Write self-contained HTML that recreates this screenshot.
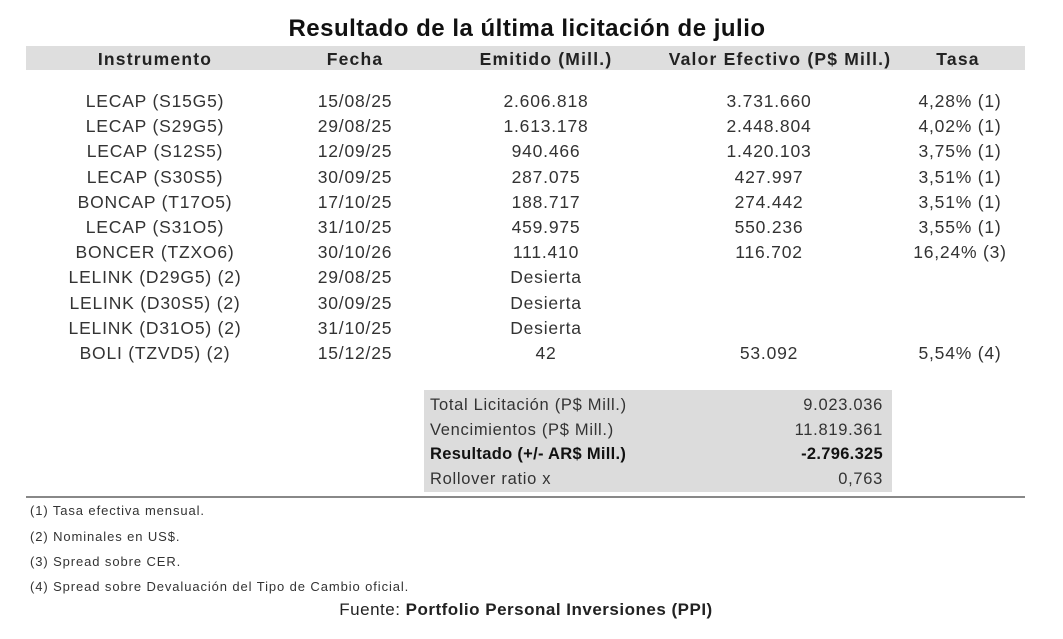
<!DOCTYPE html>
<html><head><meta charset="utf-8"><style>
body{margin:0;width:1063px;height:639px;background:#fff;font-family:"Liberation Sans",sans-serif;color:#333;position:relative;overflow:hidden}
.a{position:absolute;white-space:nowrap}
.c{transform:translateX(-50%)}
.r{transform:translateX(-100%)}
.row{font-size:17.5px;line-height:20px;letter-spacing:0.8px}
.h{font-weight:bold;font-size:17.5px;color:#222;letter-spacing:1.2px}
.s{font-size:16.5px;line-height:18px;letter-spacing:0.7px}
.f{font-size:13px;color:#333;letter-spacing:0.9px}
</style></head><body>
<div class="a c" style="left:527px;top:15px;font-size:24px;font-weight:bold;color:#111;letter-spacing:0.5px">Resultado de la última licitación de julio</div>
<div class="a" style="left:26px;top:46px;width:999px;height:24px;background:#dedede"></div>
<div class="a c h" style="left:155px;top:49px">Instrumento</div>
<div class="a c h" style="left:355px;top:49px">Fecha</div>
<div class="a c h" style="left:546px;top:49px">Emitido (Mill.)</div>
<div class="a c h" style="left:780px;top:49px">Valor Efectivo (P$ Mill.)</div>
<div class="a c h" style="left:958px;top:49px">Tasa</div>
<div id="rows"></div>
<div class="a" style="left:424px;top:390px;width:468px;height:102px;background:#dcdcdc"></div>
<div class="a s" style="left:430px;top:396px">Total Licitación (P$ Mill.)</div>
<div class="a s r" style="left:883px;top:396px">9.023.036</div>
<div class="a s" style="left:430px;top:421px">Vencimientos (P$ Mill.)</div>
<div class="a s r" style="left:883px;top:421px">11.819.361</div>
<div class="a s" style="left:430px;top:445px;font-weight:bold;color:#111;letter-spacing:0.3px">Resultado (+/- AR$ Mill.)</div>
<div class="a s r" style="left:883px;top:445px;font-weight:bold;color:#111;letter-spacing:0.3px">-2.796.325</div>
<div class="a s" style="left:430px;top:470px">Rollover ratio x</div>
<div class="a s r" style="left:883px;top:470px">0,763</div>
<div class="a" style="left:26px;top:496px;width:999px;height:2px;background:#888"></div>
<div class="a f" style="left:30px;top:503px">(1) Tasa efectiva mensual.</div>
<div class="a f" style="left:30px;top:529px">(2) Nominales en US$.</div>
<div class="a f" style="left:30px;top:554px">(3) Spread sobre CER.</div>
<div class="a f" style="left:30px;top:579px">(4) Spread sobre Devaluación del Tipo de Cambio oficial.</div>
<div class="a c" style="left:526px;top:600px;font-size:17px;color:#222;letter-spacing:0.5px">Fuente: <b>Portfolio Personal Inversiones (PPI)</b></div>
<script>
var d=[["LECAP (S15G5)","15/08/25","2.606.818","3.731.660","4,28% (1)"],
["LECAP (S29G5)","29/08/25","1.613.178","2.448.804","4,02% (1)"],
["LECAP (S12S5)","12/09/25","940.466","1.420.103","3,75% (1)"],
["LECAP (S30S5)","30/09/25","287.075","427.997","3,51% (1)"],
["BONCAP (T17O5)","17/10/25","188.717","274.442","3,51% (1)"],
["LECAP (S31O5)","31/10/25","459.975","550.236","3,55% (1)"],
["BONCER (TZXO6)","30/10/26","111.410","116.702","16,24% (3)"],
["LELINK (D29G5) (2)","29/08/25","Desierta","",""],
["LELINK (D30S5) (2)","30/09/25","Desierta","",""],
["LELINK (D31O5) (2)","31/10/25","Desierta","",""],
["BOLI (TZVD5) (2)","15/12/25","42","53.092","5,54% (4)"]];
var x=[155,355,546,769,960],h="";
d.forEach(function(r,i){var y=91+i*25.2;r.forEach(function(t,j){if(t)h+='<div class="a c row" style="left:'+x[j]+'px;top:'+y+'px">'+t+'</div>';});});
document.getElementById("rows").innerHTML=h;
</script>
</body></html>
